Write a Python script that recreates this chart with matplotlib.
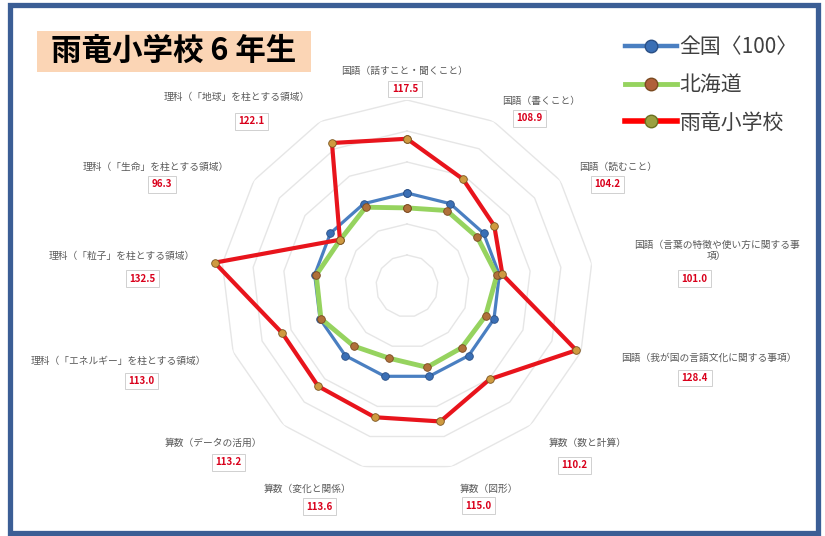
import matplotlib
matplotlib.use("Agg")
import matplotlib.pyplot as plt
from matplotlib.patches import Rectangle
from matplotlib.lines import Line2D
import numpy as np

plt.rcParams['font.family'] = ['Noto Sans CJK JP', 'DejaVu Sans']

# --- data ---
categories = [
    "国語（話すこと・聞くこと）",
    "国語（書くこと）",
    "国語（読むこと）",
    "国語（言葉の特徴や使い方に関する事\n項）",
    "国語（我が国の言語文化に関する事項）",
    "算数（数と計算）",
    "算数（図形）",
    "算数（変化と関係）",
    "算数（データの活用）",
    "理科（「エネルギー」を柱とする領域）",
    "理科（「粒子」を柱とする領域）",
    "理科（「生命」を柱とする領域）",
    "理科（「地球」を柱とする領域）",
]
zenkoku = [100] * 13
hokkaido = [95.2, 97.5, 97.6, 99.2, 97.1, 96.6, 97.0, 94.0, 95.9, 99.7, 99.5, 96.2, 98.7]
uryu = [117.5, 108.9, 104.2, 101.0, 128.4, 110.2, 115.0, 113.6, 113.2, 113.0, 132.5, 96.3, 122.1]
series_names = ["全国〈100〉", "北海道", "雨竜小学校"]
title = "雨竜小学校 6 年生"
grid_levels = [80, 90, 100, 110, 120, 130]

# label offsets (pixels) from the outer ring vertex: (name dx, name dy, value dx, value dy)
label_offsets = [
    (-2, 29, -2, 11), (48, 20, 36, 3), (58, 13, 47, -4), (125, 13, 103, -15),
    (128, -6, 114, -26), (57, -18, 44, -40), (37, -22, 27, -39), (-55, -22, -43, -40),
    (-70, -18, -55, -37), (-115, -9, -92, -29), (-101, 8, -80, -15), (-98, 13, -92, -4),
    (-84, 24, -69, 0),
]

fig = plt.figure(figsize=(8.25, 5.36), dpi=100)

n = len(categories)
theta = np.arange(n) * 2 * np.pi / n
theta_c = np.append(theta, theta[0])

def closed(v):
    return np.append(v, v[0])

ax = fig.add_axes([0.2679, 0.1194, 0.4509, 0.6940], projection='polar')
ax.set_theta_offset(np.pi / 2)
ax.set_theta_direction(-1)
ax.set_ylim(70, 130)
ax.grid(False)
ax.spines['polar'].set_visible(False)
ax.set_xticks([])
ax.set_yticks([])
ax.patch.set_alpha(0)

for lv in grid_levels:
    ax.plot(theta_c, [lv] * (n + 1), color='#e6e6e6', lw=1.0, zorder=1)

ax.plot(theta_c, closed(zenkoku), color='#4a7fc1', lw=2.3, marker='o', ms=5.5,
        mfc='#3a6fb5', mec='#2a4f85', mew=0.6, zorder=3)
ax.plot(theta_c, closed(hokkaido), color='#96d35f', lw=3.5, marker='o', ms=5.5,
        mfc='#b0703a', mec='#7a4a20', mew=0.6, zorder=4)
ax.plot(theta_c, closed(uryu), color='#e8141c', lw=3.0, marker='o', ms=5.5,
        mfc='#cf9a40', mec='#7a5520', mew=0.6, zorder=5, clip_on=False)

for i in range(n):
    ndx, ndy, vdx, vdy = label_offsets[i]
    ax.annotate(categories[i], xy=(theta[i], 130), xytext=(ndx, ndy),
                textcoords='offset pixels', ha='center', va='center',
                fontsize=7, color='#595959', annotation_clip=False, linespacing=1.2)
    ax.annotate(f"{uryu[i]:.1f}", xy=(theta[i], 130), xytext=(vdx, vdy),
                textcoords='offset pixels', ha='center', va='center',
                fontsize=7, color='#d9001b', fontweight='bold', annotation_clip=False,
                bbox=dict(boxstyle='square,pad=0.35', fc='white', ec='#d0d0d0', lw=0.7))

# title box
fig.patches.append(Rectangle((37 / 825, 1 - 72 / 536), 274 / 825, 41 / 536,
                             transform=fig.transFigure, fc='#fbd5b5', ec='none', zorder=0))
fig.text(174 / 825, 1 - 51 / 536, title, ha='center', va='center',
         fontsize=22, fontweight='bold', color='black')

# legend
handles = [
    Line2D([], [], color='#4a7fc1', lw=3.2, marker='o', ms=9, mfc='#3a6fb5', mec='#2a4f85'),
    Line2D([], [], color='#96d35f', lw=3.5, marker='o', ms=9, mfc='#b0603a', mec='#7a4a20'),
    Line2D([], [], color='#ff0000', lw=4, marker='o', ms=9, mfc='#9aa040', mec='#6a7020'),
]
fig.legend(handles, series_names, loc='upper left', bbox_to_anchor=(617 / 825, 1 - 28 / 536),
           frameon=False, fontsize=15, labelcolor='#404040', handlelength=2.5,
           handletextpad=0.1, labelspacing=0.75, borderaxespad=0)

# outer border
fig.patches.append(Rectangle((9.5 / 825, 1 - 533 / 536), 808.5 / 825, 528 / 536,
                             transform=fig.transFigure, fill=False, ec='#3b5e95', lw=3.8))

fig.savefig('out.png', dpi=100)
